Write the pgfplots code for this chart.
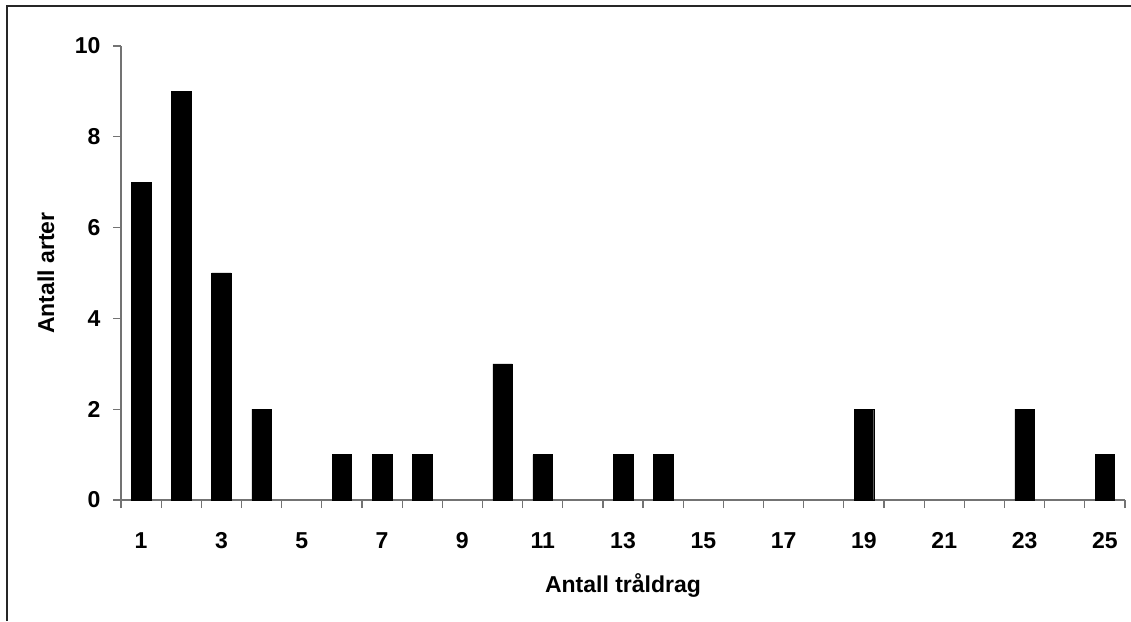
\documentclass[border=0pt]{standalone}
\usepackage{pgfplots}
\pgfplotsset{compat=1.18}
\usepackage{fontspec}
\setmainfont{Liberation Sans}
\begin{document}
\begin{tikzpicture}[x=1pt,y=1pt]
\useasboundingbox (0,0) rectangle (1131,621);
\draw[black!85, line width=1.3pt] (7,0) -- (7,615) -- (1131,615);
\begin{axis}[
  at={(121pt,121pt)}, anchor=south west,
  scale only axis, width=1004pt, height=454pt,
  xmin=0.5, xmax=25.5, ymin=0, ymax=10,
  axis x line=bottom, axis y line=left,
  axis line style={black!55, line width=1.2pt, -},
  xtick={1,3,...,25},
  minor xtick={0.5,1.5,...,25.5},
  ytick={0,2,...,10},
  tick align=outside,
  major tick length=8pt,
  minor tick length=8pt,
  every tick/.style={black!55, line width=1.2pt},
  major x tick style={draw=none},
  /pgf/number format/assume math mode=true,
  tick label style={font=\fontsize{23}{27}\selectfont\bfseries},
  xticklabel style={yshift=-21pt},
  yticklabel style={xshift=-9pt},
  every axis x label/.style={at={(axis description cs:0.5,-0.1872)},anchor=center,font=\fontsize{23}{27}\selectfont\bfseries},
  every axis y label/.style={at={(axis description cs:-0.0747,0.5)},anchor=center,rotate=90,font=\fontsize{23}{27}\selectfont\bfseries},
  xlabel={Antall tråldrag},
  ylabel={Antall arter},
  clip=false,
]
\addplot[ybar, bar width=19.5pt, fill=black, draw=black] coordinates {
 (1,7) (2,9) (3,5) (4,2) (6,1) (7,1) (8,1) (10,3) (11,1) (13,1) (14,1) (19,2) (23,2) (25,1)
};
\end{axis}
\end{tikzpicture}
\end{document}
